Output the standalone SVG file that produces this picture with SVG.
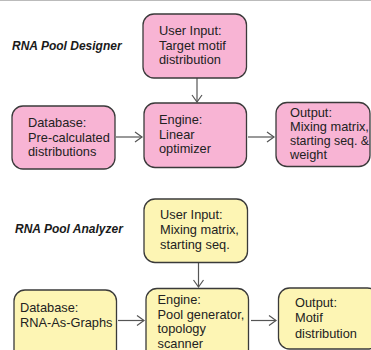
<svg xmlns="http://www.w3.org/2000/svg" width="371" height="350" viewBox="0 0 371 350">
<defs>
<style>
.title{font-family:"Liberation Sans",Arial,sans-serif;font-size:12px;font-weight:bold;font-style:italic;fill:#1a1a1a}
.t{font-family:"Liberation Sans",Arial,sans-serif;font-size:12.8px;fill:#222}
.pink{fill:#f8b4d4;stroke:#3a3a3a;stroke-width:1.3}
.yel{fill:#fdf5b4;stroke:#3a3a3a;stroke-width:1.3}
.arr{fill:none;stroke:#555;stroke-width:1.2}
</style>
<marker id="ah" markerWidth="10" markerHeight="12" refX="8" refY="6" orient="auto" markerUnits="userSpaceOnUse">
<path d="M1,1 L8,6 L1,11" fill="none" stroke="#555" stroke-width="1.2"/>
</marker>
</defs>
<rect width="371" height="350" fill="#fff"/>
<line x1="0" y1="0.5" x2="371" y2="0.5" stroke="#bbb" stroke-width="1"/>

<text class="title" x="12" y="50">RNA Pool Designer</text>
<text class="title" x="15" y="233">RNA Pool Analyzer</text>

<g id="connectors">
<line class="arr" x1="197" y1="78" x2="197" y2="102" marker-end="url(#ah)"/>
<line class="arr" x1="116" y1="137" x2="142" y2="137" marker-end="url(#ah)"/>
<line class="arr" x1="248" y1="137" x2="274" y2="137" marker-end="url(#ah)"/>
<line class="arr" x1="198.5" y1="262" x2="198.5" y2="287" marker-end="url(#ah)"/>
<line class="arr" x1="118" y1="320.5" x2="144" y2="320.5" marker-end="url(#ah)"/>
<line class="arr" x1="251" y1="320.5" x2="276" y2="320.5" marker-end="url(#ah)"/>
</g>

<g id="designer-input">
<rect class="pink" x="143" y="14" width="103.5" height="64" rx="11"/>
<text class="t" x="159" y="34.5">User Input:</text>
<text class="t" x="159" y="49.5">Target motif</text>
<text class="t" x="159" y="64">distribution</text>
</g>
<g id="designer-database">
<rect class="pink" x="12" y="106" width="103" height="63" rx="11"/>
<text class="t" x="28" y="127">Database:</text>
<text class="t" x="28" y="141.5">Pre-calculated</text>
<text class="t" x="28" y="156">distributions</text>
</g>
<g id="designer-engine">
<rect class="pink" x="144" y="103" width="102.5" height="64.5" rx="11"/>
<text class="t" x="159" y="124">Engine:</text>
<text class="t" x="159" y="138.5">Linear</text>
<text class="t" x="159" y="153">optimizer</text>
</g>
<g id="designer-output">
<rect class="pink" x="276" y="102.5" width="94" height="64" rx="11"/>
<text class="t" x="290" y="116.5">Output:</text>
<text class="t" x="290" y="130.5">Mixing matrix,</text>
<text class="t" x="290" y="144.5" textLength="79" lengthAdjust="spacingAndGlyphs">starting seq. &amp;</text>
<text class="t" x="290" y="158.5">weight</text>
</g>

<g id="analyzer-input">
<rect class="yel" x="144" y="199" width="103.5" height="63.5" rx="11"/>
<text class="t" x="160" y="219">User Input:</text>
<text class="t" x="160" y="234">Mixing matrix,</text>
<text class="t" x="160" y="249">starting seq.</text>
</g>
<g id="analyzer-database">
<rect class="yel" x="14" y="290" width="102.5" height="75" rx="11"/>
<text class="t" x="20" y="312">Database:</text>
<text class="t" x="20" y="327">RNA-As-Graphs</text>
</g>
<g id="analyzer-engine">
<rect class="yel" x="146" y="288.5" width="102.5" height="75" rx="11"/>
<text class="t" x="157.5" y="303.5">Engine:</text>
<text class="t" x="157.5" y="318.5">Pool generator,</text>
<text class="t" x="157.5" y="333">topology</text>
<text class="t" x="157.5" y="347.5">scanner</text>
</g>
<g id="analyzer-output">
<rect class="yel" x="278.5" y="288" width="100" height="61" rx="11"/>
<text class="t" x="295" y="307">Output:</text>
<text class="t" x="295" y="322">Motif</text>
<text class="t" x="295" y="337.5">distribution</text>
</g>
</svg>
